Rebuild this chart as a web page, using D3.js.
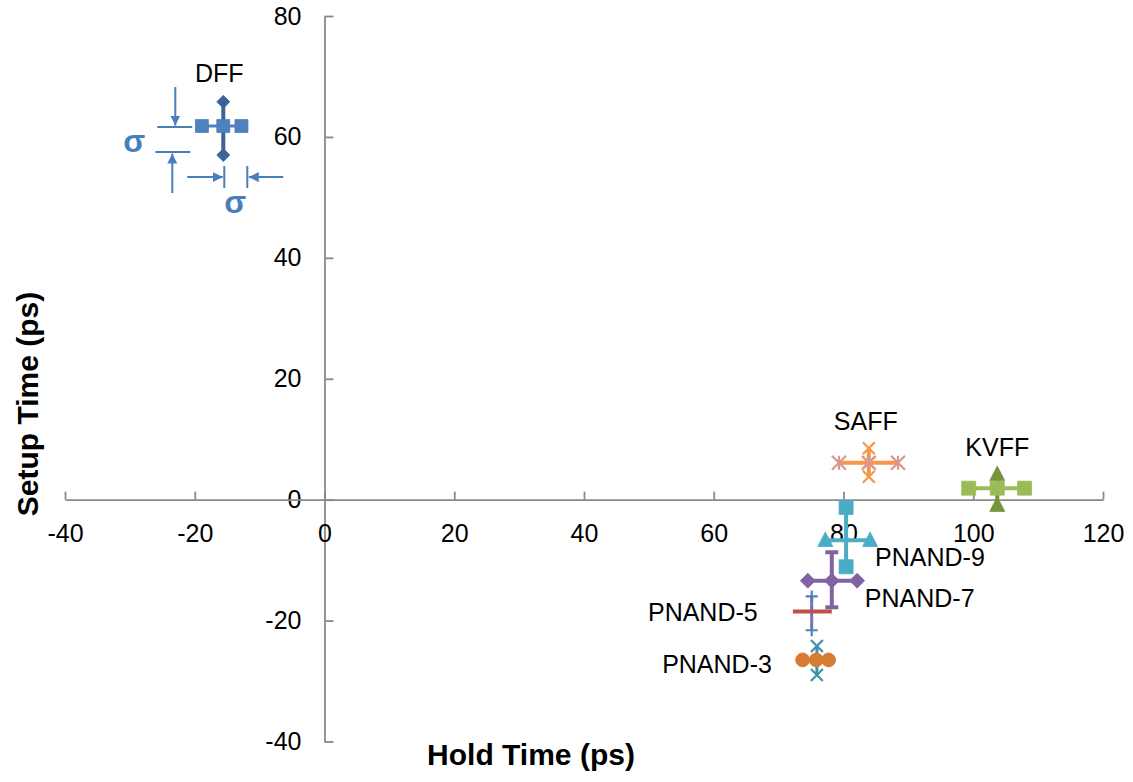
<!DOCTYPE html>
<html>
<head>
<meta charset="utf-8">
<script src="https://cdn.jsdelivr.net/npm/d3@7"></script>
<style>
  html, body { margin: 0; padding: 0; background: #fff; }
  svg { display: block; font-family: "Liberation Sans", Arial, sans-serif; }
</style>
</head>
<body>
<svg id="chart" width="1133" height="782"></svg>
<script>
// ---------- data ----------
const groups = ["DFF", "SAFF", "KVFF", "PNAND-9", "PNAND-7", "PNAND-5", "PNAND-3"];
// horizontal (hold-time spread) series: hold values at the group's setup value
const holdSpread = [
  [-18.9, -15.6, -12.8],
  [79.3, 83.9, 88.4],
  [99.3, 103.7, 107.9],
  [77.2, 80.4, 84.1],
  [74.5, 78.2, 82.1],
  [72.2, 75.1, 78.2],
  [73.7, 75.8, 77.7]
];
const setupCenter = [61.8, 6.1, 1.9, -6.7, -13.4, -18.5, -26.5];
// vertical (setup-time spread) series: setup values at the group's hold value
const holdCenter = [-15.6, 83.9, 103.7, 80.4, 78.2, 75.1, 75.9];
const setupSpread = [
  [65.8, 61.8, 57.0],
  [8.5, 6.1, 3.8],
  [4.2, 1.9, -0.9],
  [-1.3, -6.7, -11.1],
  [-8.7, -13.4, -17.8],
  [-16.0, -18.5, -21.6],
  [-24.2, -26.5, -29.0]
];
const xTicks = [-40, -20, 0, 20, 40, 60, 80, 100, 120];
const yTicks = [-40, -20, 0, 20, 40, 60, 80];
const xTitle = "Hold Time (ps)";
const yTitle = "Setup Time (ps)";
const sigmaLabel = "σ";

// ---------- styles ----------
const hStyle = [
  { line: "#4F81BD", w: 3, marker: "square", color: "#4F81BD", size: 13, mid: true },
  { line: "#F79646", w: 4, marker: "star", color: "#D99694", size: 14, mid: true },
  { line: "#9BBB59", w: 4, marker: "square", color: "#9BBB59", size: 14, mid: true },
  { line: "#4BACC6", w: 4, marker: "triangle", color: "#4BACC6", size: 15, mid: false },
  { line: "#8064A2", w: 4, marker: "diamond", color: "#8064A2", size: 15, mid: true },
  { line: "#C0504D", w: 4, marker: "none", color: "#C0504D", size: 0, mid: false },
  { line: "#D67B33", w: 3, marker: "circle", color: "#D67B33", size: 14, mid: true }
];
const vStyle = [
  { line: "#3A6496", w: 4, marker: "diamond", color: "#3A6496", size: 13, mid: false },
  { line: "#F79646", w: 4, marker: "x", color: "#F79646", size: 12, mid: true },
  { line: "#77933C", w: 4, marker: "triangle", color: "#77933C", size: 15, mid: false },
  { line: "#4BACC6", w: 4, marker: "square", color: "#4BACC6", size: 14, mid: false },
  { line: "#8064A2", w: 4, marker: "dash", color: "#8064A2", size: 13, mid: false },
  { line: "#8A6FB8", w: 3, marker: "plus", color: "#4F81BD", size: 12, mid: true },
  { line: "#3A93A8", w: 3, marker: "x", color: "#3A93A8", size: 12, mid: false }
];
// label placement relative to group centre (pixels)
const labelLayout = [
  { dx: -4, dy: -44, anchor: "middle" },
  { dx: -3, dy: -33, anchor: "middle" },
  { dx: 0, dy: -32, anchor: "middle" },
  { dx: 29, dy: 26, anchor: "start" },
  { dx: 33, dy: 26, anchor: "start" },
  { dx: -54, dy: 9, anchor: "end" },
  { dx: -45, dy: 13, anchor: "end" }
];

// ---------- scales ----------
const svg = d3.select("#chart");
const x = d3.scaleLinear().domain([-40, 120]).range([65, 1103]);
const y = d3.scaleLinear().domain([-40, 80]).range([741.5, 16]);
const axisColor = "#898989";
const fmt = d => String(d);

// ---------- axes ----------
const yAxis = svg.append("g")
  .attr("transform", `translate(${x(0)},0)`)
  .call(d3.axisLeft(y).tickValues(yTicks).tickFormat(fmt)
    .tickSizeInner(-9).tickSizeOuter(0).tickPadding(23));
const xAxis = svg.append("g")
  .attr("transform", `translate(0,${y(0)})`)
  .call(d3.axisBottom(x).tickValues(xTicks).tickFormat(fmt)
    .tickSizeInner(-8).tickSizeOuter(0).tickPadding(25));
[xAxis, yAxis].forEach(g => {
  g.selectAll("path.domain").attr("stroke", axisColor).attr("stroke-width", 1.8);
  g.selectAll(".tick line").attr("stroke", axisColor).attr("stroke-width", 1.8);
  g.selectAll(".tick text").attr("fill", "#000").style("font-size", "25px")
    .style("font-family", '"Liberation Sans", Arial, sans-serif');
});
xAxis.selectAll(".tick text").attr("dy", "0.71em");

svg.append("text")
  .attr("x", 531).attr("y", 765)
  .attr("text-anchor", "middle")
  .style("font-size", "30px").style("font-weight", "bold")
  .text(xTitle);
svg.append("text")
  .attr("transform", "translate(38,404) rotate(-90)")
  .attr("text-anchor", "middle")
  .style("font-size", "30px").style("font-weight", "bold")
  .text(yTitle);

// ---------- marker shapes ----------
function markerPath(type, s) {
  const h = s / 2;
  switch (type) {
    case "square": return `M${-h},${-h}h${s}v${s}h${-s}Z`;
    case "diamond": return `M0,${-h}L${h},0L0,${h}L${-h},0Z`;
    case "triangle": return `M0,${-s * 0.55}L${h},${s * 0.42}L${-h},${s * 0.42}Z`;
    case "circle": return d3.symbol(d3.symbolCircle, Math.PI * h * h)();
    case "x": return `M${-h},${-h}L${h},${h}M${-h},${h}L${h},${-h}`;
    case "star": return `M${-h},${-h}L${h},${h}M${-h},${h}L${h},${-h}M0,${-h}L0,${h}`;
    case "plus": return `M${-h},0L${h},0M0,${-h}L0,${h}`;
    case "dash": return `M${-h},0L${h},0`;
    default: return "";
  }
}
const strokeMarkers = new Set(["x", "star", "plus", "dash"]);

function drawSeries(g, pts, st) {
  g.append("path")
    .datum(pts)
    .attr("fill", "none")
    .attr("stroke", st.line)
    .attr("stroke-width", st.w)
    .attr("d", d3.line().x(d => x(d[0])).y(d => y(d[1])));
  if (st.marker === "none") return;
  const shown = pts.filter((p, i) => st.mid || i !== 1);
  const isStroke = strokeMarkers.has(st.marker);
  g.selectAll(null).data(shown).enter().append("path")
    .attr("transform", d => `translate(${x(d[0])},${y(d[1])})`)
    .attr("d", markerPath(st.marker, st.size))
    .attr("fill", isStroke ? "none" : st.color)
    .attr("stroke", st.color)
    .attr("stroke-width", isStroke ? (st.marker === "dash" ? 4 : 2.2) : 0.8);
}

// draw groups (bottom-most first)
const order = d3.range(groups.length).reverse();
order.forEach(i => {
  const g = svg.append("g").attr("class", "grp");
  const vPts = setupSpread[i].map(v => [holdCenter[i], v]);
  const hPts = holdSpread[i].map(v => [v, setupCenter[i]]);
  drawSeries(g, vPts, vStyle[i]);
  drawSeries(g, hPts, hStyle[i]);
});

// labels
groups.forEach((name, i) => {
  const L = labelLayout[i];
  svg.append("text")
    .attr("x", x(holdCenter[i]) + L.dx)
    .attr("y", y(setupCenter[i]) + L.dy)
    .attr("text-anchor", L.anchor)
    .style("font-size", "25px")
    .attr("fill", "#000")
    .text(name);
});

// ---------- sigma annotation (around DFF) ----------
const annColor = "#4A7EBB";
const defs = svg.append("defs");
defs.append("marker")
  .attr("id", "arrow").attr("viewBox", "0 0 10 10")
  .attr("refX", 10).attr("refY", 5)
  .attr("markerWidth", 5).attr("markerHeight", 5)
  .attr("markerUnits", "strokeWidth")
  .attr("orient", "auto")
  .append("path").attr("d", "M0,0L10,5L0,10Z").attr("fill", annColor);

const cx = x(holdCenter[0]);
const cy = y(setupCenter[0]);
const ann = svg.append("g").attr("stroke", annColor).attr("stroke-width", 2).attr("fill", "none");
// vertical sigma (setup)
ann.append("line").attr("x1", cx - 66).attr("x2", cx - 31).attr("y1", cy + 1).attr("y2", cy + 1);
ann.append("line").attr("x1", cx - 68).attr("x2", cx - 33).attr("y1", cy + 26).attr("y2", cy + 26);
ann.append("line").attr("x1", cx - 48).attr("x2", cx - 48).attr("y1", cy - 39).attr("y2", cy - 0.5)
  .attr("marker-end", "url(#arrow)");
ann.append("line").attr("x1", cx - 51).attr("x2", cx - 51).attr("y1", cy + 67).attr("y2", cy + 27.5)
  .attr("marker-end", "url(#arrow)");
// horizontal sigma (hold)
ann.append("line").attr("x1", cx + 1).attr("x2", cx + 1).attr("y1", cy + 40).attr("y2", cy + 62);
ann.append("line").attr("x1", cx + 24).attr("x2", cx + 24).attr("y1", cy + 40).attr("y2", cy + 62);
ann.append("line").attr("x1", cx - 36).attr("x2", cx - 0.5).attr("y1", cy + 51).attr("y2", cy + 51)
  .attr("marker-end", "url(#arrow)");
ann.append("line").attr("x1", cx + 60).attr("x2", cx + 25.5).attr("y1", cy + 51).attr("y2", cy + 51)
  .attr("marker-end", "url(#arrow)");

svg.append("text")
  .attr("x", cx - 89).attr("y", cy + 26)
  .attr("text-anchor", "middle")
  .attr("fill", annColor)
  .style("font-size", "32px").style("font-weight", "bold")
  .text(sigmaLabel);
svg.append("text")
  .attr("x", cx + 12).attr("y", cy + 87)
  .attr("text-anchor", "middle")
  .attr("fill", annColor)
  .style("font-size", "32px").style("font-weight", "bold")
  .text(sigmaLabel);
</script>
</body>
</html>
